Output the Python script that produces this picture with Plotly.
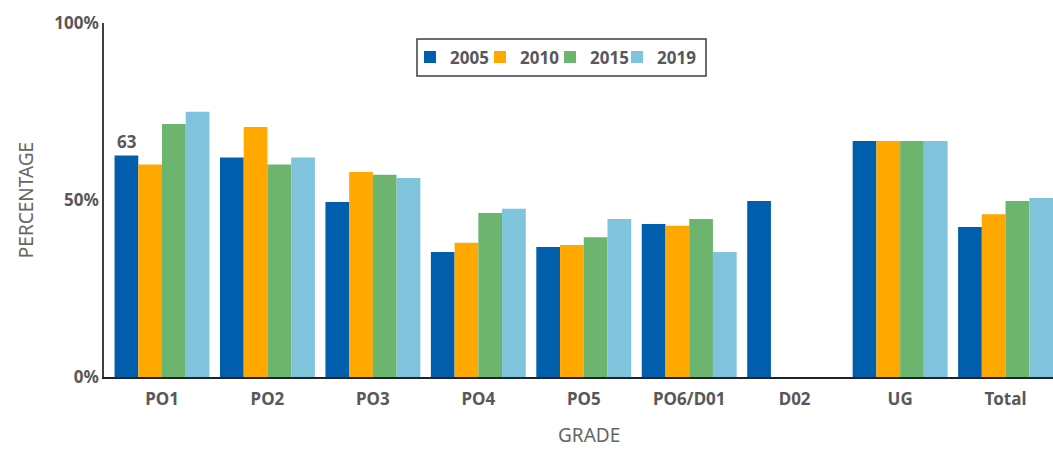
import plotly.graph_objects as go

categories = ["PO1", "PO2", "PO3", "PO4", "PO5", "PO6/D01", "D02", "UG", "Total"]
years = ["2005", "2010", "2015", "2019"]
v2005 = [62.6, 62.0, 49.4, 35.3, 36.7, 43.2, 49.7, 66.7, 42.4]
v2010 = [60.0, 70.6, 57.9, 37.9, 37.3, 42.7, None, 66.7, 46.0]
v2015 = [71.5, 60.0, 57.1, 46.3, 39.5, 44.6, None, 66.7, 49.7]
v2019 = [74.9, 62.0, 56.2, 47.5, 44.6, 35.3, None, 66.7, 50.6]
colors = ["#005EAD", "#FFA800", "#6DB56F", "#7FC3DD"]
series = [v2005, v2010, v2015, v2019]

FONT = "Noto Sans"
GRAY = "#58585a"

# plot area in pixels (for paper-coordinate placement of legend pieces)
L, R, T, B = 104, 1053, 23, 377
def px_x(p):
    return (p - L) / (R - L)
def px_y(p):
    return (B - p) / (B - T)

legend_ids = ["legend", "legend2", "legend3", "legend4"]
legend_left_px = [410, 480, 550, 617]

fig = go.Figure()
for name, vals, col, lid in zip(years, series, colors, legend_ids):
    fig.add_trace(go.Bar(x=categories, y=vals, name=name, marker_color=col,
                         marker_line_width=0, legend=lid))

fig.add_annotation(x=categories[0], y=v2005[0], text="<b>%.0f</b>" % v2005[0],
                   xref="x", yref="y", showarrow=False, yanchor="bottom",
                   xshift=-35, yshift=0, font=dict(family=FONT, size=17, color=GRAY))

fig.add_annotation(x=px_x(589), y=0, xref="paper", yref="paper", text="GRADE",
                   showarrow=False, xanchor="center", yanchor="middle", yshift=-58,
                   borderpad=0,
                   font=dict(family=FONT, size=19, color="#666666"))

# legend frame
fig.add_shape(type="rect", xref="paper", yref="paper",
              x0=px_x(417), x1=px_x(706), y0=px_y(76), y1=px_y(39),
              line=dict(color="#3a3f44", width=1.5), fillcolor="white", layer="below")

legend_common = dict(orientation="h", yanchor="middle", xanchor="left",
                     borderwidth=0, bgcolor="rgba(0,0,0,0)",
                     font=dict(family=FONT, size=17, color=GRAY, weight="bold"),
                     itemwidth=30, itemsizing="constant")
legend_layout = {}
for lid, lp in zip(legend_ids, legend_left_px):
    legend_layout[lid] = dict(x=px_x(lp), y=px_y(57.5), **legend_common)

fig.update_layout(
    width=1053, height=449,
    margin=dict(l=L, r=1053 - R, t=T, b=449 - B),
    paper_bgcolor="white", plot_bgcolor="white",
    barmode="group", bargap=0.1, bargroupgap=0,
    font=dict(family=FONT, color=GRAY),
    showlegend=True,
    xaxis=dict(range=[-0.55, 8.45], showline=True, linecolor="#1f2428", linewidth=2,
               ticks="", showgrid=False, ticklabelstandoff=6,
               tickfont=dict(family=FONT, size=17, color=GRAY, weight="bold")),
    yaxis=dict(range=[0, 100], tickvals=[0, 50, 100], ticktext=["0%", "50%", "100%"],
               showline=True, linecolor="#3a4046", linewidth=1.5, showgrid=False,
               zeroline=False, ticks="",
               tickfont=dict(family=FONT, size=17, color=GRAY, weight="bold"),
               title=dict(text="PERCENTAGE", font=dict(family=FONT, size=19, color="#666666"), standoff=16)),
    **legend_layout,
)

fig.write_html("out.html", config={"displayModeBar": False},
               post_script="document.body.style.margin='0px';document.body.style.overflow='hidden';")
